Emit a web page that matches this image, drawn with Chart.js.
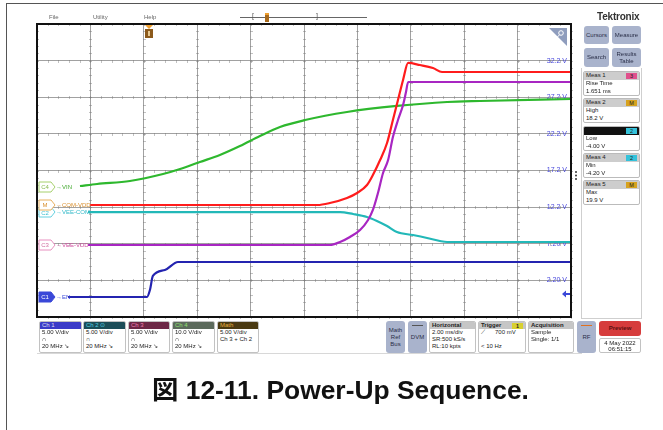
<!DOCTYPE html>
<html>
<head>
<meta charset="utf-8">
<script src="https://cdn.jsdelivr.net/npm/chart.js@4.4.0/dist/chart.umd.min.js"></script>
<style>
  html, body { margin: 0; padding: 0; background: #fff; }
  * { box-sizing: border-box; }
  #screen { position: relative; width: 663px; height: 430px; overflow: hidden;
            font-family: "Liberation Sans", Arial, sans-serif; color: #222; }
  #scope { position: absolute; left: 0; top: 0; }
  #marks { position: absolute; left: 0; top: 0; pointer-events: none; }
  .frame { position: absolute; left: 6px; top: 3px; width: 700px; height: 500px;
           border-left: 1px solid #555; border-top: 1px solid #555; }
  .menu { position: absolute; top: 14px; font-size: 6px; color: #666; }
  .slider { position: absolute; left: 240px; top: 17px; width: 127px; height: 1px; background: #666; }
  .brk { position: absolute; top: 12px; font-size: 7px; color: #555; }
  .logo { position: absolute; left: 597px; top: 11px; font-size: 10px; font-weight: bold; color: #333; letter-spacing: -0.2px; }
  .btn { position: absolute; background: #a9b3cc; border-radius: 3px; color: #2a2f48; font-size: 6px;
         display: flex; align-items: center; justify-content: center; text-align: center; line-height: 7px; }
  .panel { position: absolute; left: 581px; top: 68px; width: 61px; height: 251px; border: 1px solid #cfcfcf; border-top: none; }
  .meas { position: absolute; left: 583px; width: 57px; height: 25px; border: 1px solid #bbb; border-radius: 2px;
          background: #fff; font-size: 6px; line-height: 7.5px; overflow: hidden; }
  .meas .hd { height: 8px; background: #cdcdcd; padding-left: 2px; position: relative; color: #222; }
  .meas .bd { padding-left: 2px; color: #222; }
  .badge { position: absolute; right: 2px; top: 1px; width: 11px; height: 6px; font-size: 5.5px; line-height: 6px;
           text-align: center; color: #222; }
  .box { position: absolute; top: 321px; height: 32px; border: 1px solid #c2c2c2; border-radius: 2px;
         background: #fff; font-size: 6px; line-height: 7px; overflow: hidden; }
  .box .hd { height: 7px; padding-left: 2px; position: relative; }
  .box .bd { padding-left: 2px; color: #222; }
  .strip { position: absolute; left: 37px; top: 353px; width: 545px; height: 1px; background: #d8d8d8; }
  .caption { position: absolute; left: 152px; top: 368px; font-size: 26.4px; font-weight: bold; color: #111; white-space: nowrap;
             font-family: "Liberation Sans", "Noto Sans CJK JP", Arial, sans-serif; }
</style>
</head>
<body>
<div id="screen">
  <canvas id="scope" width="663" height="430"></canvas>
  <div class="frame"></div>

  <div class="menu" style="left:49px">File</div>
  <div class="menu" style="left:93px">Utility</div>
  <div class="menu" style="left:144px">Help</div>
  <div class="slider"></div>
  <div class="brk" style="left:252px">[</div>
  <div class="brk" style="left:316px">]</div>
  <div style="position:absolute;left:265px;top:13px;width:4px;height:9px;background:#a86a1c;border-top:2px solid #f0a030"></div>
  <div class="logo">Tektronix</div>

  <div class="btn" style="left:584px;top:26px;width:25px;height:18px">Cursors</div>
  <div class="btn" style="left:612px;top:26px;width:29px;height:18px">Measure</div>
  <div class="btn" style="left:584px;top:48px;width:25px;height:19px">Search</div>
  <div class="btn" style="left:612px;top:48px;width:29px;height:19px">Results<br>Table</div>

  <div class="panel"></div>
  <div class="meas" style="top:71px"><div class="hd">Meas 1<span class="badge" style="background:#e0508c">3</span></div>
    <div class="bd">Rise Time<br>1.651 ms</div></div>
  <div class="meas" style="top:98px"><div class="hd">Meas 2<span class="badge" style="background:#d6a21e">M</span></div>
    <div class="bd">High<br>18.2 V</div></div>
  <div class="meas" style="top:126px"><div class="hd" style="background:#111"><span class="badge" style="background:#34c2da">2</span></div>
    <div class="bd">Low<br>-4.00 V</div></div>
  <div class="meas" style="top:153px"><div class="hd">Meas 4<span class="badge" style="background:#34c2da">2</span></div>
    <div class="bd">Min<br>-4.20 V</div></div>
  <div class="meas" style="top:180px"><div class="hd">Meas 5<span class="badge" style="background:#d6a21e">M</span></div>
    <div class="bd">Max<br>19.9 V</div></div>

  <div class="strip"></div>
  <div class="box" style="left:39px;width:43px"><div class="hd" style="background:#3b3bc8;color:#dde">Ch 1</div>
    <div class="bd">5.00 V/div<br>∩<br>20 MHz ↘</div></div>
  <div class="box" style="left:83px;width:43px"><div class="hd" style="background:#1c4d58;color:#50d0e0">Ch 2 ⊙</div>
    <div class="bd">5.00 V/div<br>∩<br>20 MHz ↘</div></div>
  <div class="box" style="left:128px;width:42px"><div class="hd" style="background:#6c2846;color:#f080b0">Ch 3</div>
    <div class="bd">5.00 V/div<br>∩<br>20 MHz ↘</div></div>
  <div class="box" style="left:172px;width:43px"><div class="hd" style="background:#5c6a5c;color:#90e070">Ch 4</div>
    <div class="bd">10.0 V/div<br>∩<br>20 MHz ↘</div></div>
  <div class="box" style="left:217px;width:42px"><div class="hd" style="background:#4a3a12;color:#e8b040">Math</div>
    <div class="bd">5.00 V/div<br>Ch 3 + Ch 2</div></div>

  <div class="btn" style="left:386px;top:321px;width:19px;height:32px">Math<br>Ref<br>Bus</div>
  <div class="btn" style="left:408px;top:321px;width:19px;height:32px">DVM
    <div style="position:absolute;left:4px;top:4px;width:11px;height:1px;background:#555"></div></div>
  <div class="box" style="left:429px;width:47px"><div class="hd" style="background:#c6c6c6;font-weight:bold">Horizontal</div>
    <div class="bd">2.00 ms/div<br>SR:500 kS/s<br>RL:10 kpts</div></div>
  <div class="box" style="left:478px;width:48px"><div class="hd" style="background:#c6c6c6;font-weight:bold">Trigger
    <span class="badge" style="background:#d8d030;top:0.5px">1</span></div>
    <div class="bd">⟋&nbsp;&nbsp;&nbsp;&nbsp;&nbsp;&nbsp;700 mV<br>&nbsp;<br>&lt; 10 Hz</div></div>
  <div class="box" style="left:528px;width:46px"><div class="hd" style="background:#c6c6c6;font-weight:bold">Acquisition</div>
    <div class="bd">Sample<br>Single: 1/1</div></div>
  <div class="btn" style="left:577px;top:321px;width:19px;height:32px">RF
    <div style="position:absolute;left:4px;top:4px;width:11px;height:1px;background:#e07020"></div></div>
  <div class="btn" style="left:599px;top:321px;width:42px;height:15px;background:#d63c3c;color:#5c1010;font-weight:bold">Preview</div>
  <div class="box" style="left:599px;top:338px;width:42px;height:15px;text-align:center;line-height:6.5px;padding-top:0.5px">4 May 2022<br>06:51:15</div>

  <svg id="marks" width="663" height="430" font-family="Liberation Sans, Arial, sans-serif" font-size="6">
    <!-- trigger position flag -->
    <polygon points="145,25 153,25 149,29" fill="#f0a030"/>
    <rect x="145" y="29" width="8" height="9" fill="#8c5a1c"/>
    <rect x="148" y="31" width="2" height="5" fill="#e8c890"/>
    <!-- zoom corner -->
    <polygon points="549,28 567,28 567,46" fill="#8f9dbd"/>
    <circle cx="561" cy="33" r="2.3" fill="none" stroke="#fff" stroke-width="1"/>
    <line x1="559.5" y1="34.8" x2="557" y2="37.5" stroke="#fff" stroke-width="1"/>
    <!-- trigger level arrow -->
    <polygon points="562,294 566,290.5 566,293 570,293 570,295 566,295 566,297.5" fill="#3a48d8"/>
    <!-- side menu handle -->
    <circle cx="576" cy="172" r="1" fill="#333"/>
    <circle cx="576" cy="175.5" r="1" fill="#333"/>
    <circle cx="576" cy="179" r="1" fill="#333"/>
    <!-- channel badges -->
    <path d="M39 182 h12 l4 5 l-4 5 h-12 z" fill="#fff" stroke="#a6d06c"/>
    <text x="45" y="189.2" text-anchor="middle" fill="#88bb50">C4</text>
    <text x="56" y="189.2" fill="#44aa30">→VIN</text>
    <path d="M39 207 h12 l4 5 l-4 5 h-12 z" fill="#fff" stroke="#64d0e0"/>
    <text x="45" y="215.2" text-anchor="middle" fill="#40c0d0">C2</text>
    <text x="56" y="214.2" fill="#30b8c8">→VEE-COM</text>
    <path d="M39 200 h12 l4 5 l-4 5 h-12 z" fill="#fff" stroke="#e8b060"/>
    <text x="45" y="207.2" text-anchor="middle" fill="#d89030">M</text>
    <text x="56" y="207.2" fill="#d89030">→COM-VDD</text>
    <path d="M39 240 h12 l4 5 l-4 5 h-12 z" fill="#fff" stroke="#e890c0"/>
    <text x="45" y="247.2" text-anchor="middle" fill="#d070a0">C3</text>
    <text x="56" y="247.2" fill="#d050a0">→VEE-VDD</text>
    <path d="M39 292 h12 l4 5 l-4 5 h-12 z" fill="#3a48d8" stroke="#3a48d8"/>
    <text x="45" y="299.2" text-anchor="middle" fill="#fff">C1</text>
    <text x="56" y="299.2" fill="#3a48d8">→EN</text>
  </svg>

  <div class="caption">図 12-11. Power-Up Sequence.</div>
</div>

<script>
// time base: 2 ms/div over 10 divisions
const timeTicks = [0, 2, 4, 6, 8, 10, 12, 14, 16, 18, 20];
// graticule lines, 5 V/div, labelled on the right edge
const gridVolts = [-2.8, 2.2, 7.2, 12.2, 17.2, 22.2, 27.2, 32.2, 37.2];
const gridLabels = ['', '2.20 V', '7.20 V', '12.2 V', '17.2 V', '22.2 V', '27.2 V', '32.2 V', ''];

// C1 EN
const enTime  = [1.16, 4.12, 4.23, 4.34, 4.79, 5.28, 20];
const enVolts = [-0.07, -0.07, 0.89, 2.80, 3.62, 4.71, 4.71];

// M = Ch3 + Ch2, COM-VDD
const comTime  = [1.99, 10.50, 10.97, 11.61, 11.99, 12.36, 12.58, 12.85, 13.11, 13.33, 13.52, 13.71, 13.90, 14.34, 14.83, 15.17, 20];
const comVolts = [12.49, 12.49, 12.76, 13.45, 14.13, 15.22, 16.59, 18.63, 20.95, 24.09, 26.82, 29.56, 31.88, 31.60, 31.19, 30.65, 30.65];

// C3 VEE-VDD
const veeTime  = [1.91, 10.97, 11.35, 11.72, 12.10, 12.40, 12.58, 12.77, 12.96, 13.15, 13.33, 13.52, 13.71, 13.82, 13.90, 20];
const veeVolts = [7.03, 7.03, 7.44, 8.12, 9.08, 10.44, 11.81, 14.13, 16.86, 18.63, 21.77, 24.09, 26.14, 27.92, 29.28, 29.28];

// C2 VEE-COM
const vcTime  = [1.91, 11.35, 11.84, 12.36, 12.73, 13.11, 13.48, 14.08, 14.61, 15.09, 15.36, 20];
const vcVolts = [11.53, 11.53, 11.26, 10.85, 10.31, 9.62, 8.80, 8.39, 7.99, 7.58, 7.44, 7.44];

// C4 VIN
const vinTime  = [1.61, 2.25, 3.48, 4.72, 5.36, 6.10, 6.85, 7.60, 8.35, 9.10, 10.04, 11.61, 13.48, 15.36, 16.59, 20];
const vinVolts = [15.08, 15.36, 15.77, 16.72, 17.40, 18.36, 19.32, 20.54, 21.91, 23.14, 24.09, 25.19, 26.01, 26.55, 26.69, 26.96];

const traceColors = {
  EN: '#2424b0',
  'COM-VDD': '#ff1c1c',
  'VEE-VDD': '#a826c2',
  'VEE-COM': '#22b8b8',
  VIN: '#2eb82e'
};

const traces = [
  ['EN', enTime, enVolts],
  ['COM-VDD', comTime, comVolts],
  ['VEE-VDD', veeTime, veeVolts],
  ['VEE-COM', vcTime, vcVolts],
  ['VIN', vinTime, vinVolts]
];

const datasets = traces.map(([name, t, v]) => ({
  label: name,
  data: t.map((x, i) => ({ x, y: v[i] })),
  borderColor: traceColors[name],
  borderWidth: 2.2,
  pointRadius: 0,
  cubicInterpolationMode: 'monotone',
  fill: false
}));

// small subdivision marks along every graticule line, 5 per division
const graticuleTicks = {
  id: 'graticuleTicks',
  beforeDatasetsDraw(chart) {
    const { ctx, scales: { x, y } } = chart;
    ctx.save();
    ctx.strokeStyle = 'rgba(120,120,120,0.45)';
    ctx.lineWidth = 1;
    ctx.beginPath();
    gridVolts.forEach(v => {
      const py = Math.round(y.getPixelForValue(v)) + 0.5;
      for (let t = 0.4; t < 20; t += 0.4) {
        const px = Math.round(x.getPixelForValue(t)) + 0.5;
        ctx.moveTo(px, py - 1.5);
        ctx.lineTo(px, py + 1.5);
      }
    });
    timeTicks.forEach(t => {
      const px = Math.round(x.getPixelForValue(t)) + 0.5;
      for (let v = -1.8; v < 37; v += 1) {
        const py = Math.round(y.getPixelForValue(v)) + 0.5;
        ctx.moveTo(px - 1.5, py);
        ctx.lineTo(px + 1.5, py);
      }
    });
    ctx.stroke();
    ctx.restore();
  }
};

// thick black outline round the graticule
const scopeFrame = {
  id: 'scopeFrame',
  afterDraw(chart) {
    const { ctx, chartArea: a } = chart;
    ctx.save();
    ctx.strokeStyle = '#111';
    ctx.lineWidth = 2;
    ctx.strokeRect(a.left, a.top, a.right - a.left, a.bottom - a.top);
    ctx.restore();
  }
};

new Chart(document.getElementById('scope'), {
  type: 'line',
  data: { datasets },
  options: {
    responsive: false,
    animation: false,
    devicePixelRatio: 1,
    layout: { padding: { left: 37, top: 24, right: 92, bottom: 113 } },
    plugins: { legend: { display: false }, tooltip: { enabled: false } },
    scales: {
      x: {
        type: 'linear',
        min: 0,
        max: 20,
        afterBuildTicks: s => { s.ticks = timeTicks.map(value => ({ value })); },
        afterFit: s => { s.height = 0; },
        ticks: { display: false },
        grid: { color: 'rgba(130,130,130,0.75)', lineWidth: 1, drawTicks: false },
        border: { display: false }
      },
      y: {
        type: 'linear',
        position: 'right',
        min: -2.8,
        max: 37.2,
        afterBuildTicks: s => { s.ticks = gridVolts.map(value => ({ value })); },
        afterFit: s => { s.width = 0; },
        ticks: {
          mirror: true,
          padding: -4,
          color: '#4848dc',
          font: { family: 'Liberation Sans', size: 7 },
          callback: (val, i) => gridLabels[i]
        },
        grid: { color: 'rgba(130,130,130,0.75)', lineWidth: 1, drawTicks: false },
        border: { display: false }
      }
    }
  },
  plugins: [graticuleTicks, scopeFrame]
});
</script>
</body>
</html>
